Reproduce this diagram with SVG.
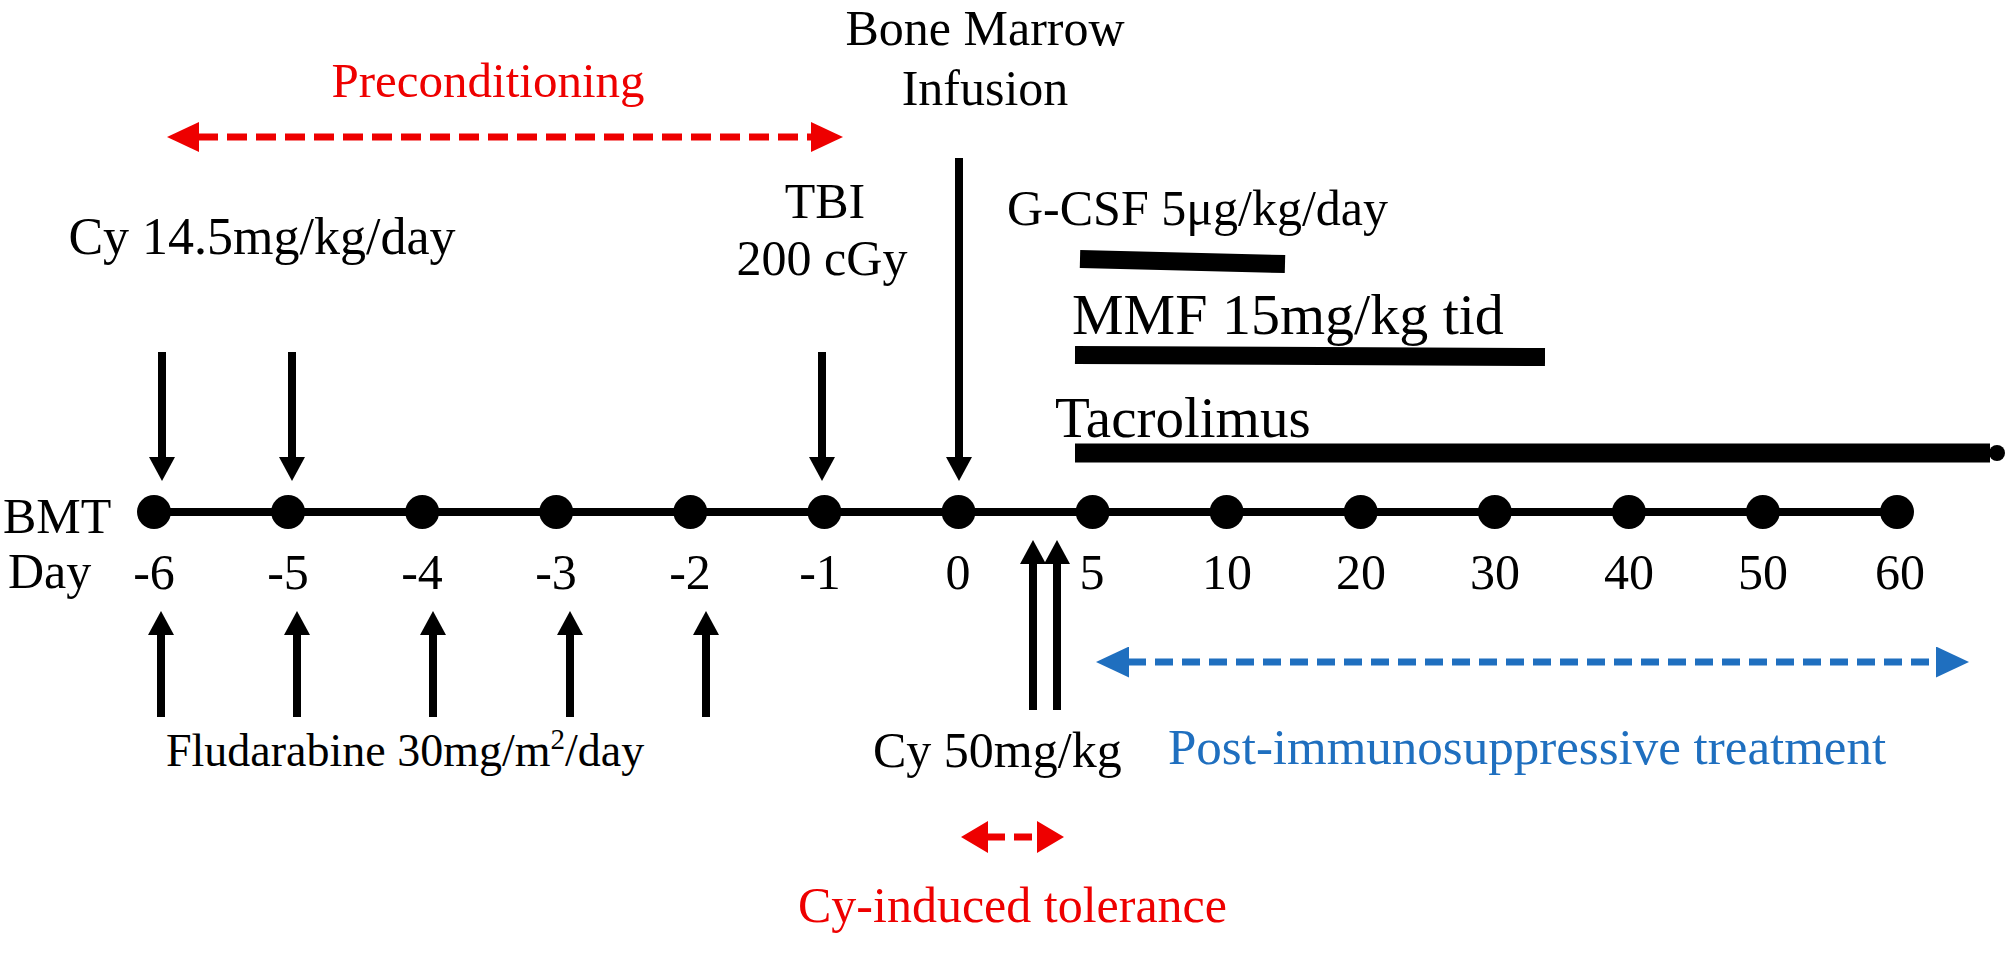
<svg xmlns="http://www.w3.org/2000/svg" width="2008" height="954" viewBox="0 0 2008 954">
<style>
text{font-family:"Liberation Serif","Times New Roman",serif;font-size:50px;fill:#000}
.red{fill:#ee0000}
.blue{fill:#1f6fbf}
.big{font-size:58px}
.mid{text-anchor:middle}
.arr{stroke:#000;stroke-width:8;fill:none}
.bar{stroke:#000;stroke-width:18;fill:none}
.rdash{stroke:#ee0000;stroke-width:7;stroke-dasharray:20 9;fill:none}
.bdash{stroke:#1f6fbf;stroke-width:7;stroke-dasharray:18 9;fill:none}
</style>
<defs>
<marker id="ah" viewBox="0 0 24 26" markerWidth="24" markerHeight="26" refX="1" refY="13" markerUnits="userSpaceOnUse" orient="auto"><path d="M0,0 L24,13 L0,26 z" fill="#000"/></marker>
<marker id="rh" viewBox="0 0 32 30" markerWidth="32" markerHeight="30" refX="1" refY="15" markerUnits="userSpaceOnUse" orient="auto-start-reverse"><path d="M0,0 L32,15 L0,30 z" fill="#ee0000"/></marker>
<marker id="bh" viewBox="0 0 33 31" markerWidth="33" markerHeight="31" refX="1" refY="15.5" markerUnits="userSpaceOnUse" orient="auto-start-reverse"><path d="M0,0 L33,15.5 L0,31 z" fill="#1f6fbf"/></marker>
<marker id="rs" viewBox="0 0 27 32" markerWidth="27" markerHeight="32" refX="1" refY="16" markerUnits="userSpaceOnUse" orient="auto-start-reverse"><path d="M0,0 L27,16 L0,32 z" fill="#ee0000"/></marker>
</defs>

<g id="timeline">
<line x1="154" y1="512" x2="1897" y2="512" stroke="#000" stroke-width="8"/>
<g fill="#000">
<circle cx="154" cy="512" r="17"/><circle cx="288.1" cy="512" r="17"/><circle cx="422.2" cy="512" r="17"/><circle cx="556.2" cy="512" r="17"/><circle cx="690.3" cy="512" r="17"/><circle cx="824.4" cy="512" r="17"/><circle cx="958.5" cy="512" r="17"/><circle cx="1092.6" cy="512" r="17"/><circle cx="1226.6" cy="512" r="17"/><circle cx="1360.7" cy="512" r="17"/><circle cx="1494.8" cy="512" r="17"/><circle cx="1628.9" cy="512" r="17"/><circle cx="1762.9" cy="512" r="17"/><circle cx="1897" cy="512" r="17"/>
</g>
<text x="3" y="533">BMT</text>
<text x="8" y="588">Day</text>
<g>
<text class="mid" x="154" y="589">-6</text><text class="mid" x="288" y="589">-5</text><text class="mid" x="422" y="589">-4</text><text class="mid" x="556" y="589">-3</text><text class="mid" x="690" y="589">-2</text><text class="mid" x="820" y="589">-1</text><text class="mid" x="958" y="589">0</text><text class="mid" x="1092" y="589">5</text><text class="mid" x="1227" y="589">10</text><text class="mid" x="1361" y="589">20</text><text class="mid" x="1495" y="589">30</text><text class="mid" x="1629" y="589">40</text><text class="mid" x="1763" y="589">50</text><text class="mid" x="1900" y="589">60</text>
</g>
</g>

<g id="preconditioning">
<text class="red mid" x="488" y="97" style="font-size:49px">Preconditioning</text>
</g>
<g id="bone-marrow">
<text class="mid" x="985" y="45">Bone Marrow</text>
<text class="mid" x="985" y="105">Infusion</text>
</g>
<g id="cy145"><text class="mid" x="262" y="254" style="font-size:52px">Cy 14.5mg/kg/day</text></g>
<g id="tbi">
<text class="mid" x="825" y="218">TBI</text>
<text class="mid" x="822" y="275">200 cGy</text>
</g>
<g id="gcsf">
<text x="1007" y="225">G-CSF 5μg/kg/day</text>
<line class="bar" x1="1080" y1="259" x2="1285" y2="264"/>
</g>
<g id="mmf">
<text class="big" x="1072" y="334">MMF 15mg/kg tid</text>
<line class="bar" x1="1075" y1="355" x2="1545" y2="357"/>
</g>
<g id="tacrolimus">
<text x="1055" y="437" style="font-size:57px">Tacrolimus</text>
<line class="bar" x1="1075" y1="453" x2="1990" y2="453" style="stroke-width:19"/>
<circle cx="1997" cy="453" r="8" fill="#000"/>
</g>
<g id="fludarabine"><text x="166" y="766" style="font-size:46px">Fludarabine 30mg/m<tspan dy="-17" style="font-size:29px">2</tspan><tspan dy="17">/day</tspan></text></g>
<g id="cy50"><text x="873" y="767">Cy 50mg/kg</text></g>
<g id="post"><text class="blue" x="1168" y="764" style="font-size:51px">Post-immunosuppressive treatment</text></g>
<g id="tolerance"><text class="red" x="798" y="922">Cy-induced tolerance</text></g>

<g id="connectors">
<line class="rdash" x1="198" y1="137" x2="812" y2="137" marker-start="url(#rh)" marker-end="url(#rh)"/>
<line class="bdash" x1="1128" y1="662" x2="1937" y2="662" marker-start="url(#bh)" marker-end="url(#bh)"/>
<line class="rdash" x1="987" y1="837" x2="1038" y2="837" style="stroke-dasharray:18 9" marker-start="url(#rs)" marker-end="url(#rs)"/>
<line class="arr" x1="162" y1="352" x2="162" y2="458" marker-end="url(#ah)"/>
<line class="arr" x1="292" y1="352" x2="292" y2="458" marker-end="url(#ah)"/>
<line class="arr" x1="822" y1="352" x2="822" y2="458" marker-end="url(#ah)"/>
<line class="arr" x1="959" y1="158" x2="959" y2="458" marker-end="url(#ah)"/>
<line class="arr" x1="161" y1="717" x2="161" y2="634" marker-end="url(#ah)"/>
<line class="arr" x1="297" y1="717" x2="297" y2="634" marker-end="url(#ah)"/>
<line class="arr" x1="433" y1="717" x2="433" y2="634" marker-end="url(#ah)"/>
<line class="arr" x1="570" y1="717" x2="570" y2="634" marker-end="url(#ah)"/>
<line class="arr" x1="706" y1="717" x2="706" y2="634" marker-end="url(#ah)"/>
<line class="arr" x1="1033" y1="710" x2="1033" y2="563" marker-end="url(#ah)"/>
<line class="arr" x1="1057" y1="710" x2="1057" y2="563" marker-end="url(#ah)"/>
</g>
</svg>
